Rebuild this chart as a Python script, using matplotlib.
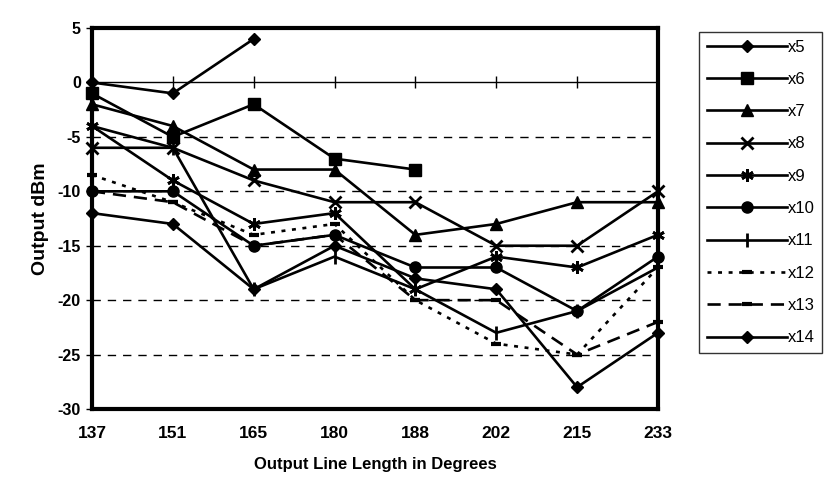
import numpy as np
import matplotlib
matplotlib.use("Agg")
import matplotlib.pyplot as plt

plt.rcParams['font.family'] = ['Liberation Sans', 'DejaVu Sans']
plt.rcParams['axes.unicode_minus'] = False

nan = np.nan
lengths = ["137", "151", "165", "180", "188", "202", "215", "233"]

x5 = [0, -1, 4, nan, nan, nan, nan, nan]
x6 = [-1, -5, -2, -7, -8, nan, nan, nan]
x7 = [-2, -4, -8, -8, -14, -13, -11, -11]
x8 = [-6, -6, -9, -11, -11, -15, -15, -10]
x9 = [-4, -9, -13, -12, -19, -16, -17, -14]
x10 = [-10, -10, -15, -14, -17, -17, -21, -16]
x11 = [-4, -6, -19, -16, -19, -23, -21, -17]
x12 = [-8.5, -11, -14, -13, -20, -24, -25, -17]
x13 = [-10, -11, -15, -14, -20, -20, -25, -22]
x14 = [-12, -13, -19, -15, -18, -19, -28, -23]

series = [x5, x6, x7, x8, x9, x10, x11, x12, x13, x14]
names = ["x5", "x6", "x7", "x8", "x9", "x10", "x11", "x12", "x13", "x14"]

# marker / line style per series (order as in legend)
styles = [
    dict(marker="D", ms=6.5, ls="-"),
    dict(marker="s", ms=8, ls="-"),
    dict(marker="^", ms=8, ls="-"),
    dict(marker="x", ms=8, mew=2, ls="-"),
    dict(marker=(6, 2, 0), ms=9, mew=2, ls="-"),
    dict(marker="o", ms=8, ls="-"),
    dict(marker="|", ms=10, mew=2, ls="-"),
    dict(marker="_", ms=7, mew=3, ls=(0, (1.5, 2.5))),
    dict(marker="_", ms=7, mew=3, ls=(0, (5, 3))),
    dict(marker="D", ms=6.5, ls="-"),
]

fig = plt.figure(figsize=(8.25, 4.84), dpi=100)
ax = fig.add_axes([0.1115, 0.155, 0.686, 0.787])

xs = np.arange(len(lengths))

# dashed gridlines
for yv in [-5, -10, -15, -20, -25]:
    ax.axhline(yv, color="black", lw=1, ls=(0, (6, 5)), zorder=1)
# axis line at zero with category ticks
ax.axhline(0, color="black", lw=1, zorder=1)
ax.plot(xs, np.zeros(len(xs)), ls="none", marker="|", ms=9, mew=1, color="black", zorder=1)

for vals, nm, st in zip(series, names, styles):
    ax.plot(xs, vals, color="black", lw=1.9, label=nm, mfc="black", mec="black",
            zorder=3, clip_on=False, **st)

ax.set_xlim(0, 7)
ax.set_ylim(-30, 5)
ax.set_yticks(range(-30, 6, 5))
ax.set_xticks(xs)
ax.set_xticklabels(lengths)

for sp in ax.spines.values():
    sp.set_linewidth(3)
    sp.set_zorder(4)

ax.tick_params(axis="x", length=0, pad=12, labelsize=12.5)
ax.tick_params(axis="y", length=4, width=1, pad=4, labelsize=11.5)
for lbl in ax.get_xticklabels() + ax.get_yticklabels():
    lbl.set_fontweight("bold")

ax.set_ylabel("Output dBm", fontsize=14, fontweight="bold", labelpad=6)
ax.set_xlabel("Output Line Length in Degrees", fontsize=12, fontweight="bold", labelpad=12)

leg = ax.legend(loc="upper left", bbox_to_anchor=(699 / 825, 1 - 32 / 484),
                bbox_transform=fig.transFigure, frameon=True, fancybox=False,
                edgecolor="black", fontsize=12, handlelength=4.8, handletextpad=0.05,
                labelspacing=1.04, borderpad=0.45, borderaxespad=0)
leg.get_frame().set_linewidth(1)

fig.savefig("out.png", dpi=100)
